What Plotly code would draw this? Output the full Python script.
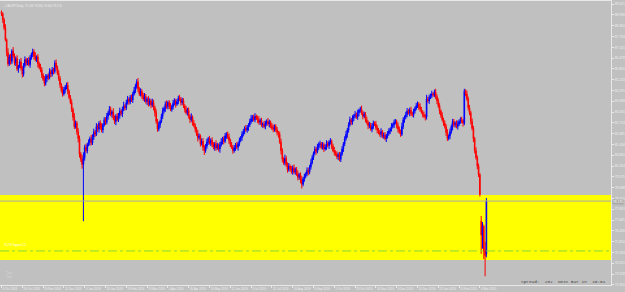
import plotly.graph_objects as go

# ---------------- data ----------------
closes = [
    89.05, 88.70, 88.25, 87.55, 86.80, 86.15, 86.55, 86.30, 86.90, 86.60,
    86.20, 86.45, 85.85, 86.00, 86.25, 85.90, 85.55, 86.05, 86.40, 86.20,
    86.35, 86.10, 86.50, 86.70, 86.85, 86.60, 86.40, 86.55, 86.15, 85.95,
    85.80, 85.50, 85.25, 85.00, 85.30, 85.45, 85.35, 85.70, 85.55, 85.80,
    85.70, 86.20, 85.95, 85.60, 85.30, 84.95, 84.60, 84.40, 84.65, 84.80,
    84.90, 84.55, 84.20, 83.90, 83.50, 83.05, 82.50, 82.70, 82.20, 81.80,
    80.90, 80.60, 80.30, 80.70, 81.30, 81.10, 81.45, 81.60, 81.80, 81.55,
    81.90, 82.20, 82.05, 82.50, 82.35, 82.70, 82.45, 82.30, 82.60, 82.90,
    82.75, 83.10, 83.30, 83.50, 83.20, 83.35, 83.00, 82.80, 83.10, 82.90,
    83.15, 83.40, 83.25, 83.50, 83.70, 83.60, 83.90, 84.10, 83.95, 84.20,
    84.05, 84.40, 84.60, 84.85, 85.10, 84.70, 84.40, 84.55, 84.30, 84.10,
    84.25, 83.95, 84.10, 83.80, 84.00, 83.75, 83.90, 83.60, 83.30, 82.80,
    82.35, 82.60, 82.80, 83.10, 83.40, 83.55, 83.80, 83.65, 83.90, 83.70,
    83.50, 83.65, 83.85, 84.00, 83.80, 83.95, 84.15, 84.10, 83.90, 84.00,
    83.70, 83.50, 83.30, 83.45, 83.10, 82.90, 83.05, 82.70, 82.55, 82.35,
    82.10, 81.85, 81.95, 81.50, 81.65, 81.30, 81.10, 81.35, 81.60, 81.80,
    81.55, 81.70, 81.45, 81.30, 81.50, 81.25, 81.40, 81.20, 81.45, 81.60,
    81.80, 81.65, 81.95, 82.05, 81.90, 81.70, 81.45, 81.30, 81.10, 81.25,
    81.40, 81.30, 81.50, 81.70, 81.85, 82.05, 82.20, 82.40, 82.30, 82.45,
    82.60, 82.80, 82.95, 83.05, 82.90, 83.10, 83.00, 82.90, 82.75, 82.85,
    82.60, 82.65, 82.50, 82.70, 82.80, 82.65, 82.75, 82.55, 82.40, 82.35,
    82.50, 82.30, 82.15, 82.05, 81.60, 81.10, 80.60, 80.40, 80.65, 80.30,
    80.00, 80.20, 80.05, 79.90, 80.10, 79.85, 80.00, 79.75, 79.55, 79.70,
    79.40, 79.15, 79.45, 79.60, 79.75, 79.95, 79.85, 80.15, 80.40, 80.70,
    80.95, 81.20, 81.05, 81.30, 81.45, 81.50, 81.30, 81.45, 81.20, 81.30,
    81.50, 81.40, 81.60, 81.65, 81.35, 81.10, 81.00, 80.90, 80.75, 80.85,
    80.60, 80.90, 81.20, 81.50, 81.80, 82.05, 82.30, 82.60, 82.90, 82.75,
    83.00, 83.10, 83.20, 83.05, 83.30, 83.45, 83.50, 83.30, 83.10, 83.20,
    82.90, 82.75, 82.55, 82.60, 82.35, 82.50, 82.70, 82.65, 82.45, 82.30,
    82.15, 82.05, 82.20, 81.95, 82.00, 81.80, 81.95, 82.10, 82.25, 82.35,
    82.50, 82.60, 82.75, 82.80, 82.55, 82.35, 82.20, 82.05, 82.50, 82.90,
    83.05, 83.20, 83.40, 83.30, 83.45, 83.25, 83.20, 83.40, 83.55, 83.70,
    83.80, 83.65, 83.50, 83.35, 83.20, 83.10, 83.05, 84.10, 84.00, 84.20,
    84.30, 84.40, 84.35, 84.50, 84.25, 84.00, 83.70, 83.40, 83.15, 82.90,
    82.70, 82.50, 82.15, 81.80, 81.95, 82.20, 82.50, 82.80, 82.60, 82.70,
    82.50, 82.65, 82.80, 82.90, 82.85, 82.70, 84.55, 84.40, 84.10, 83.60,
    83.30, 82.80, 82.40, 81.80, 81.10, 80.70, 80.20, 79.70, 78.55, 76.20,
    76.70, 75.30, 75.00, 78.17,
]
first_open = 89.15
open_gaps = {369: 77.00, 373: 75.10}   # bars that open away from the prior close

# wick sizes in hundredths of a yen
upper_wick = [
    10, 10, 12, 20, 8, 25, 14, 18, 10, 22, 15, 12, 20, 9, 16, 24, 11, 14, 18, 10,
    12, 20, 15, 10, 18, 14, 22, 9, 16, 12, 20, 15, 11, 18, 24, 10, 14, 19, 13, 16,
    12, 15, 20, 10, 18, 14, 9, 22, 16, 12, 15, 20, 11, 13, 18, 10, 24, 15, 12, 20,
    18, 12, 25, 30, 14, 20, 10, 16, 12, 22, 15, 18, 10, 20, 14, 12, 16, 25, 10, 15,
    14, 18, 12, 20, 16, 10, 22, 15, 12, 18, 14, 20, 10, 16, 24, 12, 15, 18, 10, 14,
    16, 12, 20, 14, 15, 22, 10, 18, 12, 16, 20, 14, 11, 18, 15, 10, 22, 16, 12, 20,
    14, 18, 10, 15, 20, 12, 16, 22, 10, 14, 18, 12, 20, 15, 10, 16, 14, 20, 12, 18,
    15, 10, 20, 14, 16, 12, 22, 10, 18, 14, 12, 20, 15, 10, 16, 18, 12, 14, 20, 10,
    16, 12, 18, 14, 10, 20, 15, 12, 16, 22, 10, 14, 18, 12, 16, 20, 10, 15, 12, 18,
    14, 20, 12, 16, 10, 18, 15, 12, 20, 14, 10, 16, 22, 12, 15, 18, 10, 14, 20, 12,
    16, 10, 18, 14, 12, 20, 15, 10, 16, 22, 12, 14, 18, 10, 16, 20, 14, 12, 22, 15,
    12, 18, 10, 16, 14, 20, 12, 15, 18, 10, 14, 22, 12, 16, 10, 18, 15, 12, 20, 14,
    10, 16, 12, 20, 14, 18, 10, 15, 12, 16, 20, 14, 12, 18, 10, 15, 22, 12, 16, 14,
    18, 12, 16, 10, 14, 20, 12, 15, 18, 10, 16, 14, 20, 12, 18, 10, 15, 22, 12, 16,
    14, 18, 10, 16, 12, 20, 15, 10, 18, 14, 12, 16, 20, 10, 15, 18, 12, 14, 16, 10,
    20, 12, 16, 14, 10, 18, 15, 12, 22, 14, 10, 16, 18, 12, 15, 20, 10, 14, 12, 18,
    16, 12, 20, 14, 10, 18, 12, 25, 14, 16, 12, 18, 10, 15, 20, 12, 14, 16, 10, 18,
    12, 16, 14, 20, 10, 18, 12, 15, 14, 10, 16, 20, 12, 14, 18, 10, 15, 12, 20, 14,
    16, 12, 18, 14, 10, 20, 12, 15, 10, 30, 25, 10, 50, 18,
]
lower_wick = [
    12, 18, 14, 10, 22, 15, 12, 20, 16, 10, 14, 18, 12, 22, 10, 15, 20, 14, 12, 16,
    14, 10, 18, 12, 16, 20, 10, 15, 22, 12, 14, 18, 10, 16, 12, 20, 15, 10, 18, 14,
    16, 12, 18, 10, 14, 20, 12, 16, 10, 22, 14, 18, 12, 10, 16, 20, 14, 12, 18, 22,
    20, 16, 25, 330, 18, 12, 16, 10, 20, 14, 12, 18, 15, 10, 16, 20, 12, 14, 18, 10,
    16, 12, 20, 14, 10, 18, 12, 16, 22, 10, 14, 18, 12, 20, 10, 16, 14, 12, 18, 15,
    12, 18, 10, 16, 14, 20, 12, 15, 18, 10, 16, 12, 20, 14, 10, 18, 12, 16, 22, 14,
    15, 12, 18, 10, 16, 14, 20, 12, 15, 18, 10, 14, 16, 12, 20, 10, 15, 12, 18, 14,
    12, 18, 10, 16, 14, 20, 12, 15, 10, 18, 14, 22, 12, 16, 10, 20, 25, 12, 14, 16,
    10, 18, 14, 12, 20, 16, 10, 15, 22, 12, 14, 18, 10, 16, 12, 20, 14, 10, 18, 12,
    16, 12, 20, 14, 10, 18, 12, 15, 10, 16, 20, 12, 14, 18, 10, 15, 12, 20, 14, 16,
    12, 18, 10, 16, 14, 12, 20, 15, 10, 18, 14, 12, 16, 20, 10, 22, 18, 12, 16, 14,
    18, 12, 16, 14, 20, 10, 15, 12, 18, 14, 20, 25, 12, 16, 10, 14, 18, 12, 15, 10,
    14, 12, 18, 10, 16, 20, 12, 14, 18, 10, 15, 12, 20, 14, 16, 10, 18, 12, 14, 20,
    12, 16, 10, 18, 14, 12, 20, 15, 10, 16, 14, 18, 12, 10, 16, 20, 14, 12, 18, 10,
    16, 12, 20, 14, 10, 18, 15, 12, 16, 20, 10, 14, 18, 12, 16, 10, 20, 14, 12, 18,
    14, 10, 18, 12, 16, 20, 12, 15, 10, 14, 18, 12, 16, 10, 20, 14, 12, 18, 15, 10,
    12, 18, 14, 10, 16, 12, 20, 14, 12, 18, 10, 15, 12, 14, 16, 20, 12, 18, 14, 10,
    16, 12, 20, 14, 10, 18, 12, 22, 14, 16, 10, 18, 12, 14, 16, 20, 12, 14, 10, 16,
    14, 18, 12, 20, 16, 12, 18, 14, 12, 110, 80, 50, 120, 20,
]

date_labels = [
    "4 Oct 2018", "26 Oct 2018", "19 Nov 2018", "11 Dec 2018", "4 Jan 2019",
    "28 Jan 2019", "19 Feb 2019", "13 Mar 2019", "4 Apr 2019", "26 Apr 2019",
    "20 May 2019", "11 Jun 2019", "3 Jul 2019", "25 Jul 2019", "16 Aug 2019",
    "9 Sep 2019", "1 Oct 2019", "23 Oct 2019", "14 Nov 2019", "6 Dec 2019",
    "31 Dec 2019", "23 Jan 2020", "14 Feb 2020", "9 Mar 2020",
]
date_label_bars = [16 * k for k in range(len(date_labels))]

price_ticks = [
    89.615, 88.988, 88.360, 87.733, 87.105, 86.478, 85.850, 85.223, 84.595,
    83.968, 83.340, 82.713, 82.085, 81.458, 80.830, 80.203, 79.575, 78.948,
    78.320, 77.693, 77.065, 76.438, 75.810, 75.183, 74.555, 73.928, 73.300,
]

zone_top = 78.52
zone_bottom = 74.75
target_level = 75.27
bid_price = 78.17

# ---------------- build OHLC ----------------
n = len(closes)
opens = [first_open] + closes[:-1]
for k, v in open_gaps.items():
    opens[k] = v
highs = [max(o, c) + u / 100 for o, c, u in zip(opens, closes, upper_wick)]
lows = [min(o, c) - d / 100 for o, c, d in zip(opens, closes, lower_wick)]
bars = list(range(n))

fig = go.Figure()
fig.add_trace(go.Candlestick(
    x=bars, open=opens, high=highs, low=lows, close=closes,
    increasing=dict(line=dict(color="#0000ff", width=1), fillcolor="#0000ff"),
    decreasing=dict(line=dict(color="#ff0000", width=1), fillcolor="#ff0000"),
    whiskerwidth=0, showlegend=False, hoverinfo="skip",
))

fig.add_shape(type="rect", xref="paper", x0=0, x1=1, y0=zone_bottom, y1=zone_top,
              fillcolor="#ffff00", line=dict(width=0), layer="below")
fig.add_shape(type="line", xref="paper", x0=0, x1=1, y0=target_level, y1=target_level,
              line=dict(color="#86d63a", width=1, dash="dashdot"))
fig.add_shape(type="line", xref="paper", x0=0, x1=1, y0=bid_price, y1=bid_price,
              line=dict(color="#a8a8a8", width=1))

txt = "#eeeeee"
small = "Liberation Sans"
fig.add_annotation(
    xref="paper", yref="paper", x=0.004, y=1.0, xanchor="left", yanchor="top",
    yshift=-1,
    text="▪ CADJPY,Daily  %.3f %.3f %.3f %.3f" % (opens[-1], highs[-1], lows[-1], closes[-1]),
    showarrow=False, font=dict(size=2.8, color=txt, family=small))
fig.add_annotation(
    xref="paper", yref="y", x=1.0, y=bid_price, xanchor="left", yanchor="middle",
    xshift=1, yshift=-1,
    text="%.3f" % bid_price, showarrow=False, bgcolor="#a8a8a8", borderpad=0,
    font=dict(size=3.2, color="#ffffff", family=small))
fig.add_annotation(
    xref="paper", yref="y", x=0.004, y=target_level + 0.1, xanchor="left", yanchor="bottom",
    text="75.270 Support 1:2", showarrow=False,
    font=dict(size=2.6, color="#ffffff", family=small))
fig.add_annotation(
    xref="paper", yref="paper", x=0.007, y=0.035, xanchor="left", yanchor="middle",
    text="Twin<br>Twin", showarrow=False,
    font=dict(size=3, color="#d6d6d6", family=small))
fig.add_annotation(
    xref="paper", yref="paper", x=0.995, y=0.012, xanchor="right", yanchor="middle",
    text="Spread:  232  Next Bar in  15:01", showarrow=False,
    font=dict(size=4.4, color="#404040", family="Liberation Mono"))

fig.update_layout(
    width=625, height=292,
    margin=dict(l=0, r=14, t=1, b=7, autoexpand=False),
    paper_bgcolor="#c0c0c0", plot_bgcolor="#c0c0c0",
    xaxis=dict(
        type="linear", range=[-1.15, 468.85], rangeslider=dict(visible=False),
        tickmode="array", tickvals=date_label_bars, ticktext=date_labels,
        ticks="outside", ticklen=2, tickcolor="#e8e8e8",
        ticklabelposition="outside right", tickangle=0, automargin=False,
        tickfont=dict(size=3, color=txt, family=small),
        showgrid=False, zeroline=False, showline=True, linecolor="#e8e8e8",
        linewidth=1, mirror=True, fixedrange=True,
    ),
    yaxis=dict(
        side="right", range=[73.29, 89.80], automargin=False,
        tickmode="array", tickvals=price_ticks,
        ticktext=["%.3f" % v for v in price_ticks],
        ticks="outside", ticklen=2, tickcolor="#e8e8e8",
        tickfont=dict(size=3.3, color=txt, family=small),
        showgrid=False, zeroline=False, showline=True, linecolor="#e8e8e8",
        linewidth=1, fixedrange=True,
    ),
)

fig.write_html("out.html")
